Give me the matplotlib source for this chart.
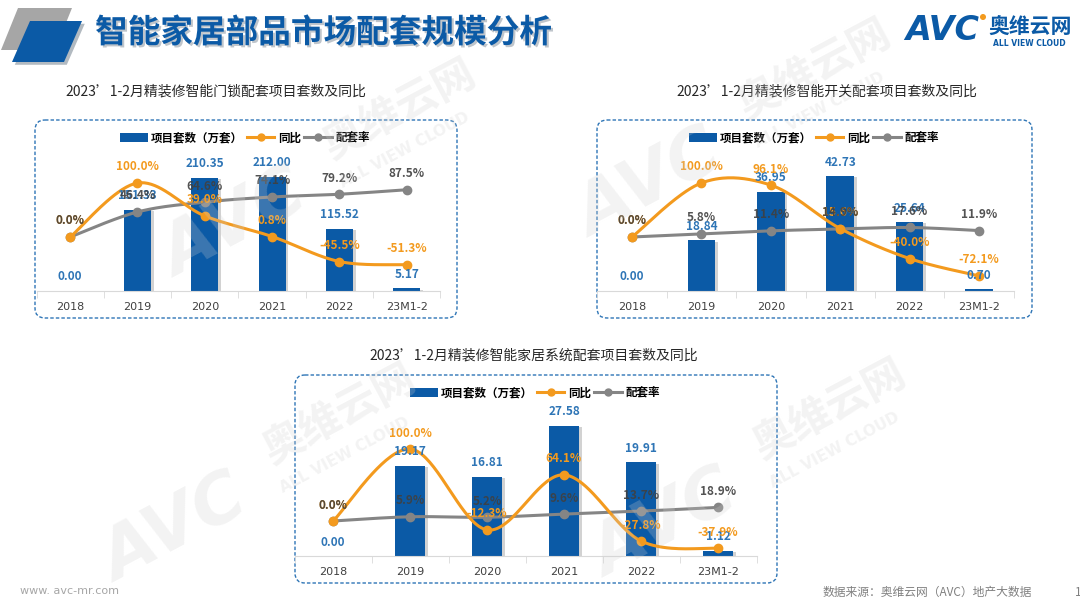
import numpy as np
import matplotlib
matplotlib.use('Agg')
import matplotlib.pyplot as plt
from matplotlib.patches import FancyBboxPatch, Polygon, Patch, Circle
from matplotlib.lines import Line2D
import matplotlib.patheffects as pe

plt.rcParams['font.family'] = ['Noto Sans CJK SC', 'DejaVu Sans']

# ---------------- data ----------------
categories = ['2018', '2019', '2020', '2021', '2022', '23M1-2']

lock_sets = [0.00, 151.33, 210.35, 212.00, 115.52, 5.17]
lock_yoy = [0.0, 100.0, 39.0, 0.8, -45.5, -51.3]
lock_rate = [0.0, 46.4, 64.6, 74.1, 79.2, 87.5]

switch_sets = [0.00, 18.84, 36.95, 42.73, 25.64, 0.70]
switch_yoy = [0.0, 100.0, 96.1, 15.6, -40.0, -72.1]
switch_rate = [0.0, 5.8, 11.4, 14.9, 17.6, 11.9]

system_sets = [0.00, 19.17, 16.81, 27.58, 19.91, 1.12]
system_yoy = [0.0, 100.0, -12.3, 64.1, -27.8, -37.9]
system_rate = [0.0, 5.9, 5.2, 9.6, 13.7, 18.9]

legend_labels = ['项目套数（万套）', '同比', '配套率']
page_title = '智能家居部品市场配套规模分析'
chart_titles = ['2023’1-2月精装修智能门锁配套项目套数及同比',
                '2023’1-2月精装修智能开关配套项目套数及同比',
                '2023’1-2月精装修智能家居系统配套项目套数及同比']

BLUE = '#0B5AA6'
LBLUE = '#2E75B6'
ORANGE = '#F39A1E'
GRAY = '#858585'
W, H = 1080, 606

fig = plt.figure(figsize=(W / 100, H / 100), dpi=100)
fig.patch.set_facecolor('white')

bg = fig.add_axes([0, 0, 1, 1], zorder=-5)
bg.set_xlim(0, W); bg.set_ylim(H, 0); bg.axis('off')


def smooth(xs, ys, n=40):
    P = np.column_stack([np.asarray(xs, float), np.asarray(ys, float)])
    P = np.vstack([P[0], P, P[-1]])
    out = []
    t = np.linspace(0, 1, n)[:, None]
    for i in range(1, len(P) - 2):
        p0, p1, p2, p3 = P[i - 1], P[i], P[i + 1], P[i + 2]
        c1 = p1 + (p2 - p0) / 6
        c2 = p2 - (p3 - p1) / 6
        seg = (1 - t) ** 3 * p1 + 3 * (1 - t) ** 2 * t * c1 + 3 * (1 - t) * t ** 2 * c2 + t ** 3 * p2
        out.append(seg if i == 1 else seg[1:])
    S = np.vstack(out)
    return S[:, 0], S[:, 1]


def draw_chart(box, rect, title, title_xy, legend_xy, sets, yoy, rate, ymax, y2lim):
    # dashed rounded frame
    bx0, by0, bx1, by1 = box
    bg.add_patch(FancyBboxPatch((bx0, by0), bx1 - bx0, by1 - by0,
                                boxstyle='round,pad=0,rounding_size=10',
                                fill=False, ec=LBLUE, lw=1.0, ls=(0, (2.5, 1.5))))
    bg.text(title_xy[0], title_xy[1], title, ha='center', va='center',
            fontsize=10, color='#262626')

    L, T, R, B = rect
    ax = fig.add_axes([L / W, 1 - B / H, (R - L) / W, (B - T) / H])
    ax.patch.set_visible(False)
    x = np.arange(len(categories))
    bars = ax.bar(x, sets, width=0.4, color=BLUE, zorder=2)
    for b in bars:
        b.set_path_effects([pe.SimplePatchShadow(offset=(2, -1), shadow_rgbFace='#808080', alpha=0.35),
                            pe.Normal()])
    ax.set_xlim(-0.5, len(categories) - 0.5)
    ax.set_ylim(0, ymax)
    ax.set_yticks([])
    for s in ['top', 'left', 'right']:
        ax.spines[s].set_visible(False)
    ax.spines['bottom'].set_color('#D9D9D9')
    ax.set_xticks(x)
    ax.set_xticklabels(categories, fontsize=8, color='#404040', family='DejaVu Sans')
    ax.tick_params(axis='x', which='major', length=0, pad=8)
    ax.set_xticks(np.arange(-0.5, len(categories)), minor=True)
    ax.tick_params(axis='x', which='minor', length=5, color='#D9D9D9')

    ax2 = ax.twinx()
    ax2.set_ylim(*y2lim)
    ax2.axis('off')
    sx, sy = smooth(x, rate)
    ax2.plot(sx, sy, color=GRAY, lw=2.2, zorder=3)
    ax2.plot(x, rate, 'o', color=GRAY, ms=6, zorder=4)
    sx, sy = smooth(x, yoy)
    ax2.plot(sx, sy, color=ORANGE, lw=2.2, zorder=5)
    ax2.plot(x, yoy, 'o', color=ORANGE, ms=6, zorder=6)

    kw = dict(textcoords='offset pixels', ha='center', va='center',
              fontsize=8.5, fontweight='bold', annotation_clip=False)
    for i in range(len(categories)):
        ax2.annotate(f'{sets[i]:.2f}', xy=(i, sets[i]), xycoords=ax.transData,
                     xytext=(0, 14), color=LBLUE, zorder=7, **kw)
        ax2.annotate(f'{yoy[i]:.1f}%', xy=(i, yoy[i]), xytext=(0, 16),
                     color=ORANGE, zorder=8, **kw)
        ax2.annotate(f'{rate[i]:.1f}%', xy=(i, rate[i]), xytext=(0, 16),
                     color='#404040', alpha=0.9, zorder=9, **kw)

    handles = [Patch(facecolor=BLUE),
               Line2D([], [], color=ORANGE, lw=2.2, marker='o', ms=5),
               Line2D([], [], color=GRAY, lw=2.2, marker='o', ms=5)]
    fig.legend(handles, legend_labels, loc='center',
               bbox_to_anchor=(legend_xy[0] / W, 1 - legend_xy[1] / H),
               ncol=3, frameon=False, handlelength=2.4, handletextpad=0.3,
               columnspacing=0.3, prop={'size': 8.3, 'weight': 'bold'})
    return ax, ax2


draw_chart((35, 120, 457, 318), (36.5, 150, 440.5, 291), chart_titles[0], (216, 92), (245, 138),
           lock_sets, lock_yoy, lock_rate, 262.2, (-100, 161.1))
draw_chart((597, 120, 1032, 318), (597.3, 150, 1013.7, 291), chart_titles[1], (827, 92), (814, 138),
           switch_sets, switch_yoy, switch_rate, 52.4, (-100, 161.1))
draw_chart((295, 375, 777, 583), (294.5, 410, 756.5, 556), chart_titles[2], (534, 356), (535, 393),
           system_sets, system_yoy, system_rate, 30.97, (-48.6, 154.2))

# ---------------- header ----------------
bg.add_patch(Polygon([(18, 8), (72, 8), (55, 50), (1, 50)], closed=True, fc='#A6A6A6', ec='none'))
bg.add_patch(Polygon([(30, 21), (82, 21), (64, 62), (12, 62)], closed=True, fc=BLUE, ec='none',
                     path_effects=[pe.SimplePatchShadow(offset=(2, -2), alpha=0.3), pe.Normal()]))
bg.text(95, 33, page_title, ha='left', va='center', fontsize=23.5, fontweight='bold', color=BLUE,
        path_effects=[pe.withSimplePatchShadow(offset=(1.5, -1.5), alpha=0.25)])

# logo
bg.text(905, 31, 'AVC', ha='left', va='center', fontsize=24, fontweight='bold', style='italic',
        color=BLUE, family='DejaVu Sans')
bg.add_patch(Circle((983, 17), 3, fc=ORANGE, ec='none'))
bg.text(988, 26, '奥维云网', ha='left', va='center', fontsize=15, fontweight='bold', color=BLUE)
bg.text(1029, 43, 'ALL VIEW CLOUD', ha='center', va='center', fontsize=5.5, fontweight='bold',
        color=BLUE, family='DejaVu Sans')

# footer
bg.text(20, 591, 'www. avc-mr.com', ha='left', va='center', fontsize=8, color='#A6A6A6',
        family='DejaVu Sans')
bg.text(823, 592, '数据来源：奥维云网（AVC）地产大数据', ha='left', va='center', fontsize=8.5,
        color='#808080')
bg.text(1075, 592, '1', ha='left', va='center', fontsize=8.5, color='#808080')

# ---------------- watermark ----------------
ov = fig.add_axes([0, 0, 1, 1], zorder=20)
ov.set_xlim(0, W); ov.set_ylim(H, 0); ov.axis('off')
wm = dict(color='#CFCFCF', alpha=0.25, rotation=28, ha='center', va='center', fontweight='bold')
for (ax_, ay_) in [(235, 225), (650, 185), (175, 530), (665, 525)]:
    ov.text(ax_, ay_, 'AVC', fontsize=50, family='DejaVu Sans', style='italic', **wm)
    ov.text(ax_ + 165, ay_ - 115, '奥维云网', fontsize=30, **wm)
    ov.text(ax_ + 170, ay_ - 75, 'ALL VIEW CLOUD', fontsize=11, family='DejaVu Sans', **wm)

fig.savefig('out.png', dpi=100)
